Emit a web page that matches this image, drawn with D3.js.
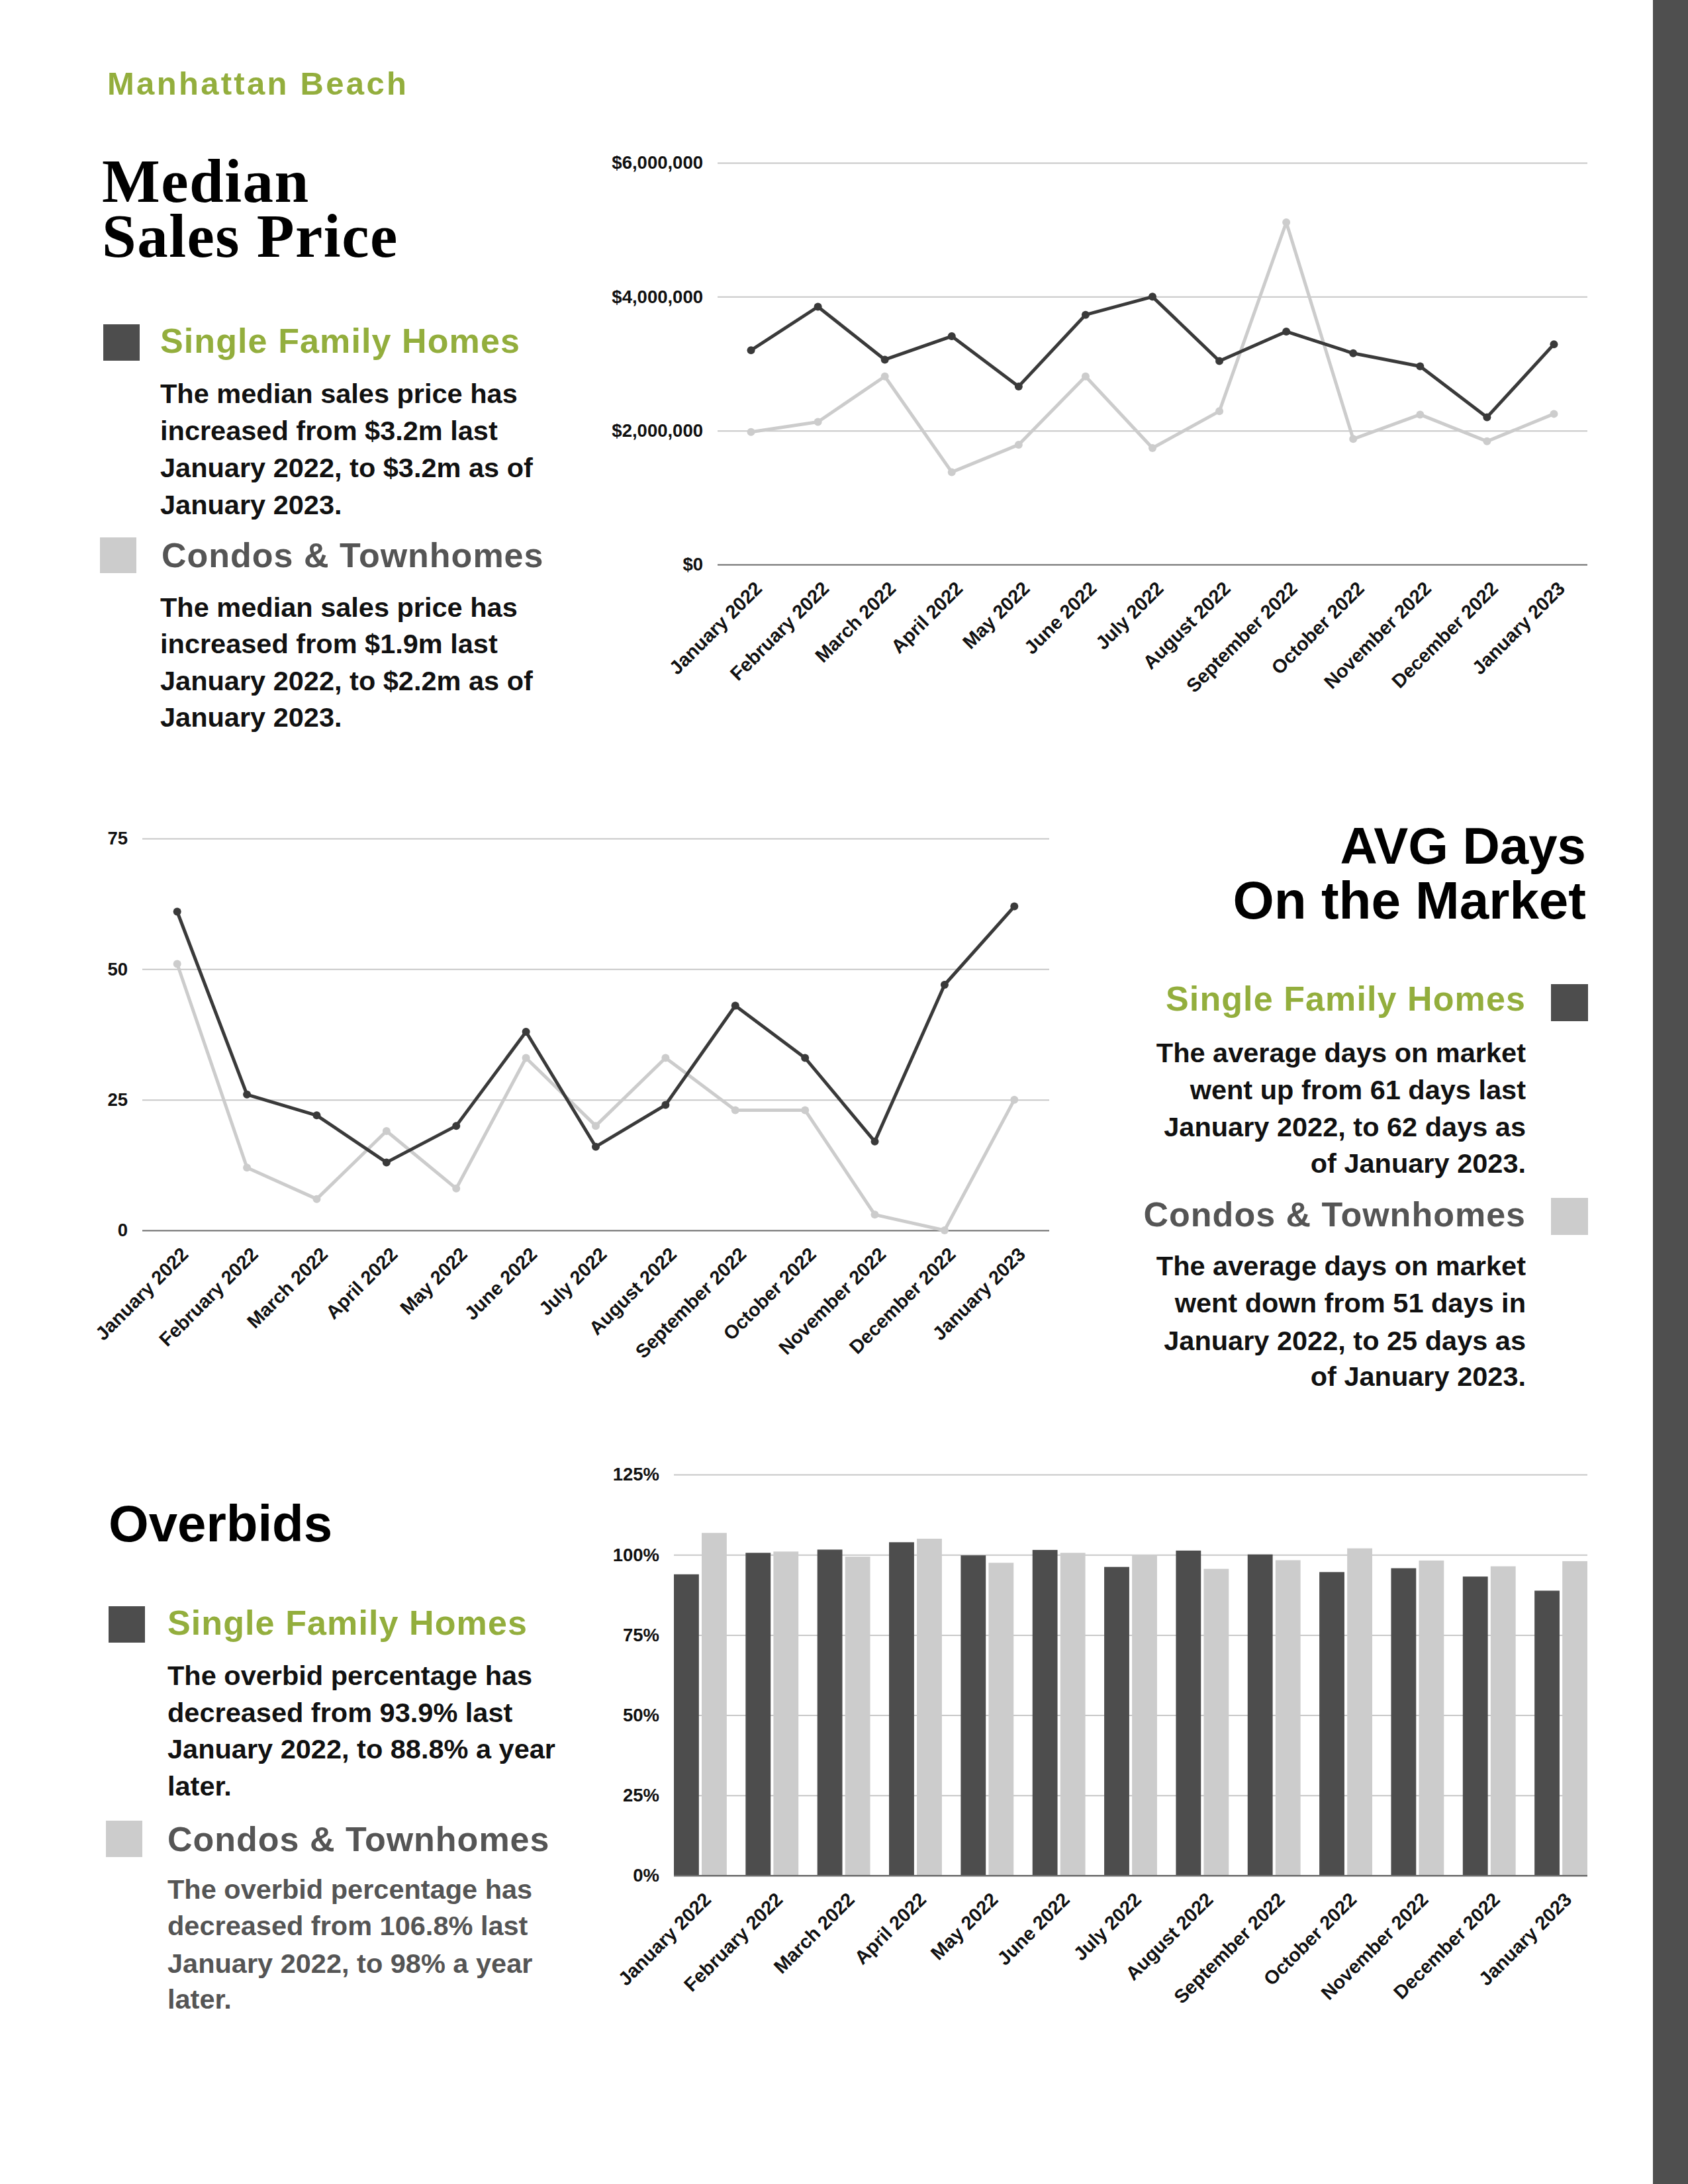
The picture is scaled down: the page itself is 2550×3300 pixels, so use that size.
<!DOCTYPE html>
<html><head><meta charset="utf-8">
<script src="https://cdn.jsdelivr.net/npm/d3@7"></script>
<style>
body{margin:0;background:#ffffff}
svg{display:block}
text{font-family:"Liberation Sans",Arial,Helvetica,sans-serif}
</style>
</head><body>
<svg id="c" width="2550" height="3300"></svg>
<script>
// ---------- data ----------
const months = ["January 2022","February 2022","March 2022","April 2022","May 2022","June 2022","July 2022","August 2022","September 2022","October 2022","November 2022","December 2022","January 2023"];
const priceSFH   = [3200000,3850000,3060000,3410000,2660000,3730000,4000000,3040000,3480000,3155000,2960000,2200000,3290000];
const priceCondo = [1980000,2130000,2810000,1380000,1790000,2810000,1740000,2290000,5110000,1875000,2240000,1840000,2250000];
const priceTicks = [0,2000000,4000000,6000000];
const daysSFH   = [61,26,22,13,20,38,16,24,43,33,17,47,62];
const daysCondo = [51,12,6,19,8,33,20,33,23,23,3,0,25];
const dayTicks = [0,25,50,75];
const overbidSFH   = [93.9,100.6,101.6,103.9,99.8,101.5,96.2,101.3,100.1,94.6,95.8,93.2,88.8];
const overbidCondo = [106.8,101.0,99.4,105.0,97.5,100.6,100.0,95.6,98.3,102.0,98.2,96.4,98.0];
const overbidTicks = [0,25,50,75,100,125];
const seriesNames = ["Single Family Homes","Condos & Townhomes"];

const titleLines = ["Median","Sales Price"];
const priceText1 = ["The median sales price has","increased from $3.2m last","January 2022, to $3.2m as of","January 2023."];
const priceText2 = ["The median sales price has","increased from $1.9m last","January 2022, to $2.2m as of","January 2023."];
const daysText1 = ["The average days on market","went up from 61 days last","January 2022, to 62 days as","of January 2023."];
const daysText2 = ["The average days on market","went down from 51 days in","January 2022, to 25 days as","of January 2023. "];
const bidText1 = ["The overbid percentage has","decreased from 93.9% last","January 2022, to 88.8% a year","later."];
const bidText2 = ["The overbid percentage has","decreased from 106.8% last","January 2022, to 98% a year","later."];

// ---------- style ----------
const GREEN = "#93ae3d", DARK = "#4d4d4d", LIGHT = "#cccccc", LINE_DARK = "#3a3a3a", GRID = "#c8c8c8", AXIS = "#6b6b6b";
const svg = d3.select("#c");
svg.append("rect").attr("width",2550).attr("height",3300).attr("fill","#ffffff");
svg.append("rect").attr("x",2497).attr("y",0).attr("width",53).attr("height",3300).attr("fill","#4f4f4f");

function txt(x,y,s,size,opts={}){
  const t = svg.append("text").attr("x",x).attr("y",y).text(s)
    .attr("font-size",size).attr("font-weight",opts.weight||"bold")
    .attr("fill",opts.fill||"#111");
  if(opts.anchor) t.attr("text-anchor",opts.anchor);
  if(opts.ls) t.attr("letter-spacing",opts.ls);
  if(opts.family) t.style("font-family",opts.family);
  return t;
}
function block(x,ys,lines,opts){ lines.forEach((l,i)=>txt(x,ys[i],l,41.5,opts)); }

// ---------- header / left texts ----------
txt(162,143,"Manhattan Beach",49,{fill:GREEN,ls:3.3});
const title = svg.append("text").attr("font-size",93).attr("font-weight","bold").attr("fill","#000")
  .attr("letter-spacing",1.5)
  .style("font-family","'Liberation Serif','Times New Roman',serif");
title.append("tspan").attr("x",154).attr("y",305).text(titleLines[0]);
title.append("tspan").attr("x",154).attr("y",388).text(titleLines[1]);

svg.append("rect").attr("x",156).attr("y",490).attr("width",55).attr("height",55).attr("fill",DARK);
txt(242,533,seriesNames[0],52,{fill:GREEN,ls:1.1});
block(242,[609,665,721,777],priceText1,{});
svg.append("rect").attr("x",151).attr("y",812).attr("width",55).attr("height",54).attr("fill",LIGHT);
txt(244,857,seriesNames[1],52,{fill:"#555",ls:1});
block(242,[932,987,1043,1098],priceText2,{});

// AVG days text (right aligned)
txt(2396,1305,"AVG Days",78,{fill:"#000",anchor:"end"});
txt(2396,1388,"On the Market",80,{fill:"#000",anchor:"end"});
txt(2305,1527,seriesNames[0],52,{fill:GREEN,ls:1.1,anchor:"end"});
svg.append("rect").attr("x",2343).attr("y",1487).attr("width",56).attr("height",56).attr("fill",DARK);
block(2305,[1605,1661,1717,1772],daysText1,{anchor:"end"});
txt(2305,1853,seriesNames[1],52,{fill:"#555",ls:1,anchor:"end"});
svg.append("rect").attr("x",2343).attr("y",1810).attr("width",56).attr("height",56).attr("fill",LIGHT);
block(2305,[1927,1983,2040,2094],daysText2,{anchor:"end"});

// Overbids text
txt(164,2329,"Overbids",78,{fill:"#000"});
svg.append("rect").attr("x",164).attr("y",2427).attr("width",55).attr("height",55).attr("fill",DARK);
txt(253,2470,seriesNames[0],52,{fill:GREEN,ls:1.1});
block(253,[2546,2602,2657,2713],bidText1,{});
svg.append("rect").attr("x",160).attr("y",2751).attr("width",55).attr("height",55).attr("fill",LIGHT);
txt(253,2797,seriesNames[1],52,{fill:"#555",ls:1});
block(253,[2869,2924,2981,3035],bidText2,{fill:"#555"});

// ---------- chart helpers ----------
function yAxis(g, y, x0, x1, ticks, fmt){
  const ax = g.append("g").attr("transform",`translate(${x0},0)`)
    .call(d3.axisLeft(y).tickValues(ticks).tickFormat(fmt).tickSize(-(x1-x0)).tickPadding(22));
  ax.select(".domain").remove();
  ax.selectAll(".tick line").attr("stroke",d=>d===0?AXIS:GRID).attr("stroke-width",2);
  ax.selectAll(".tick text").attr("font-size",27.5).attr("font-weight","bold").attr("fill","#111")
    .style("font-family","'Liberation Sans',Arial,sans-serif");
}
function xAxis(g, x, yPos){
  const ax = g.append("g").attr("transform",`translate(0,${yPos})`)
    .call(d3.axisBottom(x).tickSize(0));
  ax.select(".domain").remove();
  ax.selectAll(".tick text").attr("x",0).attr("y",0).attr("dy",0)
    .attr("transform","translate(18,38) rotate(-45)")
    .style("text-anchor","end").attr("font-size",29).attr("font-weight","bold").attr("fill","#111")
    .style("font-family","'Liberation Sans',Arial,sans-serif");
}
function lineChart(cfg){
  const g = svg.append("g");
  const x = d3.scalePoint().domain(months).range([cfg.x0,cfg.x1]).padding(0.5);
  const y = d3.scaleLinear().domain([0,cfg.max]).range([cfg.y0,cfg.yTop]);
  yAxis(g,y,cfg.x0,cfg.x1,cfg.ticks,cfg.fmt);
  xAxis(g,x,cfg.y0);
  const line = d3.line().x((d,i)=>x(months[i])).y(d=>y(d));
  [[cfg.s2,LIGHT],[cfg.s1,LINE_DARK]].forEach(([s,c])=>{
    g.append("path").datum(s).attr("d",line).attr("fill","none").attr("stroke",c)
      .attr("stroke-width",5).attr("stroke-linejoin","round");
    g.selectAll(null).data(s).enter().append("circle")
      .attr("cx",(d,i)=>x(months[i])).attr("cy",d=>y(d)).attr("r",6).attr("fill",c);
  });
}

// Chart 1: median price
lineChart({x0:1084,x1:2398,y0:853,yTop:246,max:6000000,ticks:priceTicks,
  fmt:d=>"$"+d3.format(",")(d),s1:priceSFH,s2:priceCondo});
// Chart 2: days
lineChart({x0:215,x1:1585,y0:1859,yTop:1267,max:75,ticks:dayTicks,
  fmt:d=>String(d),s1:daysSFH,s2:daysCondo});

// Chart 3: overbids bars
(function(){
  const g = svg.append("g");
  const x0=1018,x1=2398,yB=2834,yT=2228;
  const x = d3.scaleBand().domain(months).range([x0,x1]).paddingInner(0.263).paddingOuter(0);
  const xs = d3.scaleBand().domain([0,1]).range([0,x.bandwidth()]).paddingInner(0.1);
  const y = d3.scaleLinear().domain([0,125]).range([yB,yT]);
  yAxis(g,y,x0,x1,overbidTicks,d=>d+"%");
  xAxis(g,x,yB);
  [overbidSFH,overbidCondo].forEach((s,k)=>{
    g.selectAll(null).data(s).enter().append("rect")
      .attr("x",(d,i)=>x(months[i])+xs(k)).attr("width",xs.bandwidth())
      .attr("y",d=>y(d)).attr("height",d=>yB-y(d)).attr("fill",k===0?DARK:LIGHT);
  });
  g.append("line").attr("x1",x0).attr("x2",x1).attr("y1",yB).attr("y2",yB).attr("stroke",AXIS).attr("stroke-width",2);
})();
</script>
</body></html>
